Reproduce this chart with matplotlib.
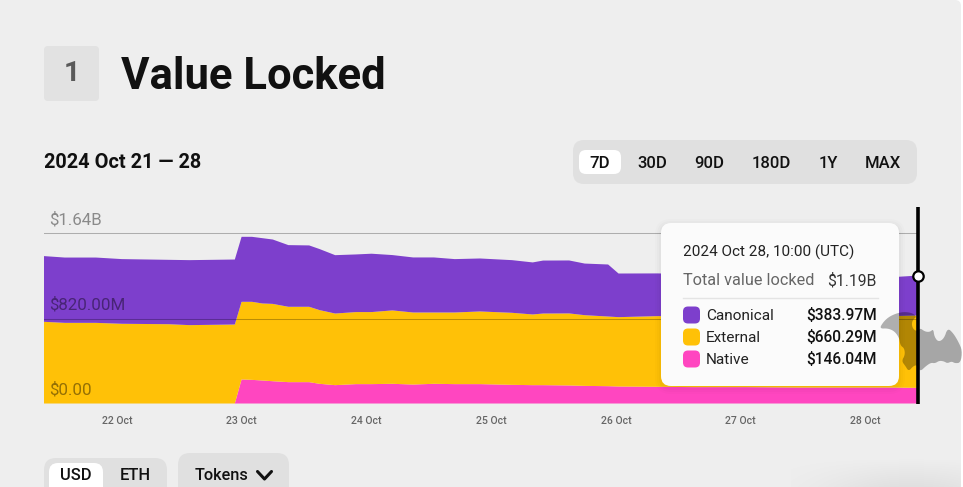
import numpy as np
import matplotlib
matplotlib.use("Agg")
import matplotlib.pyplot as plt
from matplotlib.patches import FancyBboxPatch, Polygon

plt.rcParams['font.family'] = ['Roboto', 'DejaVu Sans']

# ---- data (values in $M; x = hours since 21 Oct 10:00 UTC)
hours = [0, 4, 10, 15, 24, 28, 36.7, 38, 40, 42, 44, 47, 51, 53, 56, 60, 63, 67, 71, 75, 79,
         83.85, 90, 94, 96, 101, 104, 108.5, 110.5, 118, 125, 135, 145, 155, 162, 168]
native = [0, 0, 0, 0, 0, 0, 0, 232, 228, 222, 215, 206, 206, 190, 177, 187, 187, 190, 183, 190, 187,
          187, 180, 177, 177, 174, 170, 167, 164, 161, 158, 158, 154, 154, 154, 151]
external = [788, 778, 778, 769, 765, 756, 762, 749, 753, 743, 746, 727, 727, 711, 691, 695, 695, 708, 695, 688, 691,
            701, 695, 682, 691, 695, 682, 672, 669, 682, 685, 685, 688, 688, 688, 698]
canonical = [634, 630, 630, 624, 621, 627, 627, 627, 627, 630, 621, 595, 592, 589, 563, 556, 563, 534, 531, 531, 515,
             511, 508, 502, 511, 511, 498, 502, 421, 412, 405, 399, 392, 386, 373, 385]
y_ticks = [0, 820, 1640]
y_labels = ['$0.00', '$820.00M', '$1.64B']
x_ticks = [14, 38, 62, 86, 110, 134, 158]
x_labels = ['22 Oct', '23 Oct', '24 Oct', '25 Oct', '26 Oct', '27 Oct', '28 Oct']
ranges = ['7D', '30D', '90D', '180D', '1Y', 'MAX']
range_x = [600, 652, 709, 771, 828, 883]
legend_names = ['Canonical', 'External', 'Native']
legend_vals = ['$383.97M', '$660.29M', '$146.04M']
PURPLE, ORANGE, PINK = '#7D3FCC', '#FFC107', '#FF46C0'
legend_cols = [PURPLE, ORANGE, PINK]

W, H = 963, 487
fig = plt.figure(figsize=(W / 100, H / 100), dpi=100, facecolor='#ffffff')


def px_axes(z):
    a = fig.add_axes([0, 0, 1, 1], zorder=z)
    a.set_xlim(0, W)
    a.set_ylim(H, 0)
    a.axis('off')
    a.patch.set_alpha(0)
    return a


def rrect(a, x0, y0, x1, y1, r, color, **kw):
    p = FancyBboxPatch((x0 + r, y0 + r), x1 - x0 - 2 * r, y1 - y0 - 2 * r,
                       boxstyle=f'round,pad={r},rounding_size={r}', fc=color, ec='none', **kw)
    a.add_patch(p)
    return p


def chaikin(pts, n=2):
    for _ in range(n):
        nxt = np.roll(pts, -1, axis=0)
        pts = np.column_stack([0.75 * pts + 0.25 * nxt, 0.25 * pts + 0.75 * nxt]).reshape(-1, 2)
    return pts


bg = px_axes(0)
rrect(bg, -30, 0, 961, H + 30, 6, '#eeeeee')

# faint shadow bottom right
yy, xx = np.mgrid[0:40, 0:170]
sh = np.exp(-(((xx - 120) / 90.0) ** 2)) * np.clip((yy - 10) / 30.0, 0, 1) * 0.06
rgba = np.zeros((40, 170, 4))
rgba[..., 3] = sh
bg.imshow(rgba, extent=(791, 961, 487, 447), aspect='auto', zorder=1)
bg.set_xlim(0, W)
bg.set_ylim(H, 0)

# header
rrect(bg, 44, 46, 99, 101, 4, '#e2e2e2')
bg.text(71.5, 73.5, '1', fontsize=20.5, fontweight='bold', color='#5a5a5a', ha='center', va='center')
bg.text(121, 89, 'Value Locked', fontsize=31.4, fontweight='bold', color='#111111', ha='left', va='baseline')
bg.text(44, 162.5, '2024 Oct 21 — 28', fontsize=14.3, fontweight='bold', color='#111111', ha='left', va='center')

# range selector
rrect(bg, 573, 140, 917, 184, 11, '#e0e0e0')
rrect(bg, 579, 150, 621, 174, 7, '#ffffff')
for lab, x in zip(ranges, range_x):
    bg.text(x, 163, lab, fontsize=12, fontweight='medium', color='#111111', ha='center', va='center')

# bottom controls
rrect(bg, 44, 458, 167, 510, 12, '#e0e0e0')
rrect(bg, 49, 463, 103, 510, 9, '#ffffff')
bg.text(76, 476, 'USD', fontsize=11.9, fontweight='medium', color='#111111', ha='center', va='center')
bg.text(135, 476, 'ETH', fontsize=11.9, fontweight='medium', color='#111111', ha='center', va='center')
rrect(bg, 178, 453, 289, 510, 12, '#e0e0e0')
bg.text(195, 476, 'Tokens', fontsize=11.7, fontweight='medium', color='#111111', ha='left', va='center')
bg.plot([257.5, 264.5, 271.5], [471.5, 479, 471.5], color='#111111', lw=2.2, solid_capstyle='round')

# chart
left, right, y0_px, top_px = 44, 917.5, 403.5, 207
ax = fig.add_axes([left / W, 1 - y0_px / H, (right - left) / W, (y0_px - top_px) / H], zorder=2)
ax.patch.set_alpha(0)
ax.stackplot(hours, native, external, canonical, colors=[PINK, ORANGE, PURPLE], linewidth=0,
             labels=['Native', 'External', 'Canonical'])
ax.set_xlim(0, 168)
ax.set_ylim(0, (y0_px - top_px) * 1640 / 170)
for s in ax.spines.values():
    s.set_visible(False)
ax.set_yticks(y_ticks, y_labels)
ax.set_xticks(x_ticks, x_labels)
ax.set_axisbelow(False)
ax.grid(axis='y', color='#000000', alpha=0.27, lw=0.75)
ax.tick_params(axis='y', length=0, pad=-3.5, labelsize=12.2, labelcolor=(0, 0, 0, 0.42))
for t in ax.get_yticklabels():
    t.set_ha('left')
    t.set_va('bottom')
    t.set_transform(t.get_transform() + matplotlib.transforms.ScaledTranslation(0, 6 / 100, fig.dpi_scale_trans))
ax.tick_params(axis='x', length=0, pad=9.2, labelsize=7.6, labelcolor='#666666')
for t in ax.get_xticklabels():
    t.set_fontweight('medium')

# cursor line + point
total_last = native[-1] + external[-1] + canonical[-1]
ax.plot([168, 168], [0, ax.get_ylim()[1]], color='#000000', lw=2.6, clip_on=False, zorder=6, solid_capstyle='butt')
ax.plot([168], [total_last], 'o', ms=7.5, mfc='#ffffff', mec='#000000', mew=1.6, clip_on=False, zorder=7)

# foreground overlay
fg = px_axes(3)

# tooltip
for grow, al in [(6, 0.012), (4, 0.015), (2, 0.02)]:
    rrect(fg, 661 - grow, 223 - grow + 2, 899 + grow, 386 + grow + 2, 10 + grow, '#000000', alpha=al, zorder=2)
rrect(fg, 661, 223, 899, 386, 10, '#fbfbfb', zorder=3)
kw = dict(zorder=4, va='center')
fg.text(683, 252, '2024 Oct 28, 10:00 (UTC)', fontsize=11, color='#222222', ha='left', **kw)
fg.text(683, 280.5, 'Total value locked', fontsize=11.7, color='#666666', ha='left', **kw)
fg.text(877, 280.5, '$1.19B', fontsize=11.3, color='#333333', ha='right', **kw)
fg.plot([683, 878], [297.5, 297.5], color='#e4e4e4', lw=1, zorder=4)
for i, (n, v, c) in enumerate(zip(legend_names, legend_vals, legend_cols)):
    yc = 315 + 22 * i
    rrect(fg, 683, yc - 8.5, 700, yc + 8.5, 5, c, zorder=4)
    fg.text(706, yc + 1, n, fontsize=11.1, color='#222222', ha='left', **kw)
    fg.text(877, yc + 1, v, fontsize=11.2, fontweight='medium', color='#111111', ha='right', **kw)

# watermark silhouette sits above everything except the cursor line look
bat = np.array([(28, 86), (40, 66), (55, 52), (72, 43), (92, 37), (110, 36), (128, 40), (140, 50),
                (128, 60), (125, 74), (130, 88), (142, 94), (150, 84), (165, 95), (180, 96), (190, 87),
                (193, 110), (205, 126), (222, 116), (233, 84), (250, 100), (265, 125), (277, 152), (272, 188),
                (255, 190), (245, 184), (232, 190), (222, 184), (208, 182), (195, 190), (183, 188),
                (168, 198), (150, 215), (142, 195), (130, 198), (116, 214), (106, 198), (95, 183), (105, 165),
                (103, 145), (91, 136), (88, 115), (75, 95), (55, 85)], dtype=float)
bat = chaikin(bat / 3 + np.array([870, 300]), 2)
fg.add_patch(Polygon(bat, closed=True, fc='#000000', alpha=0.3, ec='none', zorder=5))

fig.savefig('out.png', dpi=100, facecolor=fig.get_facecolor())
